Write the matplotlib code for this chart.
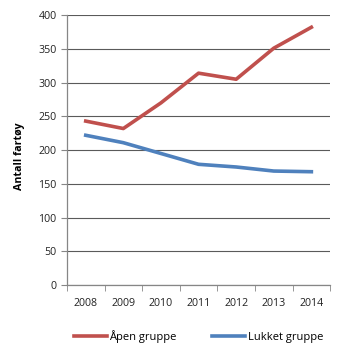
import numpy as np
import matplotlib.pyplot as plt

plt.rcParams['font.family'] = ['Open Sans', 'DejaVu Sans']

years = ['2008', '2009', '2010', '2011', '2012', '2013', '2014']
apen = [243, 232, 270, 314, 305, 351, 382]
lukket = [222, 211, 195, 179, 175, 169, 168]

fig = plt.figure(figsize=(3.45, 3.6), dpi=100)
ax = fig.add_axes([0.194, 0.208, 0.763, 0.75])

x = np.arange(len(years))
ax.plot(x, apen, color='#C0504D', linewidth=2.6, label='Åpen gruppe')
ax.plot(x, lukket, color='#4F81BD', linewidth=2.6, label='Lukket gruppe')

ax.set_xlim(-0.5, len(years) - 0.5)
ax.set_ylim(0, 400)
ax.set_yticks(np.arange(0, 401, 50))
ax.set_xticks(x)
ax.set_xticklabels(years)
ax.set_xticks(np.arange(-0.5, len(years), 1), minor=True)
ax.tick_params(axis='x', which='major', length=0, pad=9, labelsize=7.7, colors='#222222')
ax.tick_params(axis='x', which='minor', length=4, color='#868686')
ax.tick_params(axis='y', length=4, color='#868686', labelsize=7.7, colors='#222222')

ax.grid(axis='y', color='#5a5a5a', linewidth=0.8)
ax.set_axisbelow(True)
for s in ['top', 'right']:
    ax.spines[s].set_visible(False)
for s in ['left', 'bottom']:
    ax.spines[s].set_color('#868686')
    ax.spines[s].set_linewidth(0.9)

ax.set_ylabel('Antall fartøy', fontsize=7.7, fontweight='bold')
ax.yaxis.set_label_coords(-0.16, 0.478)

fig.legend(loc='lower center', bbox_to_anchor=(0.575, 0.02), ncol=2, frameon=False,
           fontsize=8, handlelength=3, handletextpad=0.2, columnspacing=3.2)

fig.savefig('out.png', dpi=100)
